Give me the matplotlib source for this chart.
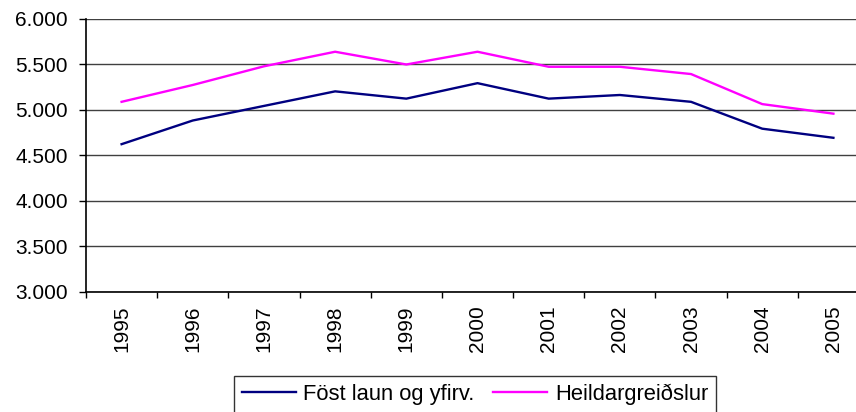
import numpy as np
import matplotlib
matplotlib.use("Agg")
import matplotlib.pyplot as plt
from matplotlib.ticker import FuncFormatter, FixedLocator

plt.rcParams['font.family'] = ['Liberation Sans', 'DejaVu Sans']

# gögn lesin af myndinni
years = ['1995', '1996', '1997', '1998', '1999', '2000',
         '2001', '2002', '2003', '2004', '2005']
fost_laun = [4620, 4880, 5040, 5200, 5120, 5290, 5120, 5160, 5085, 4790, 4690]
heildar = [5085, 5270, 5475, 5635, 5495, 5635, 5470, 5470, 5390, 5060, 4955]

W, H = 856, 412
fig = plt.figure(figsize=(W / 100, H / 100), dpi=100)
fig.patch.set_facecolor('white')

# plot svæðið nær aðeins út fyrir hægri brún myndarinnar
ax = fig.add_axes([86 / W, 1 - 291.7 / H, (869 - 86) / W, (291.7 - 18.5) / H])

x = np.arange(len(years))
ax.plot(x, fost_laun, color='#000080', linewidth=1.7, label='Föst laun og yfirv.')
ax.plot(x, heildar, color='#FF00FF', linewidth=1.7, label='Heildargreiðslur')

ax.set_ylim(3000, 6000)
ax.set_xlim(-0.5, len(years) - 0.5)
ax.set_yticks(np.arange(3000, 6001, 500))
ax.yaxis.set_major_formatter(FuncFormatter(lambda v, p: f"{int(v):,}".replace(",", ".")))
ax.grid(axis='y', color='#404040', linewidth=1.0)
ax.set_axisbelow(True)

ax.set_xticks(x)
ax.set_xticklabels(years, rotation=90)
ax.xaxis.set_minor_locator(FixedLocator(np.arange(-0.5, len(years), 1.0)))
ax.tick_params(axis='x', which='major', length=0, pad=10, labelsize=15)
ax.tick_params(axis='x', which='minor', length=4, width=1, color='black', direction='out')
ax.tick_params(axis='y', length=5, width=1, color='black', pad=8, labelsize=15)

for s in ['top', 'right']:
    ax.spines[s].set_visible(False)
for s in ['left', 'bottom']:
    ax.spines[s].set_color('black')
    ax.spines[s].set_linewidth(1.2)

leg = fig.legend(loc='upper center', bbox_to_anchor=(475 / W, 1 - 376 / H), ncol=2,
                 fontsize=15.8, frameon=True, fancybox=False, edgecolor='black',
                 handlelength=2.45, handletextpad=0.35, columnspacing=0.85,
                 borderpad=0.35, borderaxespad=0)
leg.get_frame().set_linewidth(1.0)

fig.savefig('out.png', dpi=100, facecolor='white')
